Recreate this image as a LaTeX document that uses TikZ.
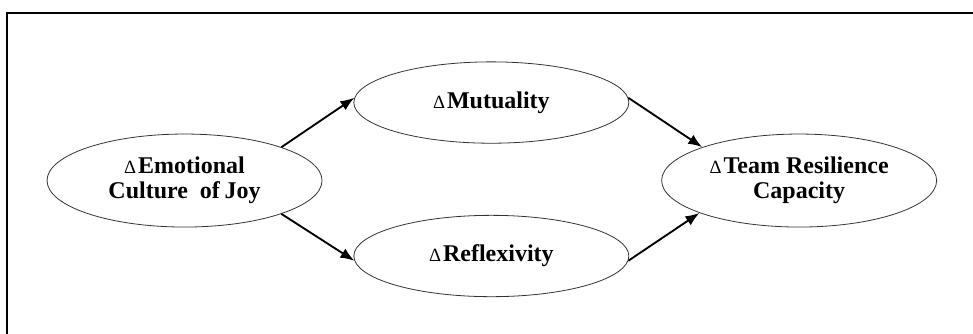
\documentclass[tikz,border=0pt]{standalone}
\usepackage{fontspec}
\setmainfont{Liberation Serif}
\usepackage{tikz}
\usetikzlibrary{shapes, arrows.meta, positioning}
\tikzset{
  varnode/.style={draw=black!80, line width=0.6pt, ellipse, minimum width=206.25pt, minimum height=69.75pt, inner sep=0pt, align=center, font=\fontsize{18}{19}\selectfont\bfseries},
  smallvar/.style={varnode, minimum height=61pt},
  arrow/.style={-{Latex[length=10.5pt, width=8pt]}, line width=1.4pt},
  frame/.style={draw, line width=1.5pt}
}
\newcommand{\dlt}{{\fontsize{14}{14}\selectfont\mdseries Δ}\kern1.5pt}

\begin{document}
\begin{tikzpicture}

% Frame
\clip (0,0) rectangle (729.75pt,-249.75pt);
\draw[frame] (5.25pt,-9.75pt) rectangle (745pt,-265pt);

% Nodes
\node[varnode] (emo) at (138.4pt,-135.4pt) {\dlt Emotional\\Culture~ of\kern-1pt\ Joy};
\node[smallvar, right=23.25pt of emo, yshift=58.5pt] (mut) {\dlt Mutuality};
\node[smallvar, right=23.25pt of emo, yshift=-56.6pt] (ref) {\dlt Reflexivity};
\node[varnode, right=24pt of mut, yshift=-58.5pt] (team) {\dlt Team Resilience\\Capacity};

% Connections
\draw[arrow] (emo.19) -- (mut.178);
\draw[arrow] (emo.-19) -- (ref.182);
\draw[arrow] (mut.2) -- (team.161);
\draw[arrow] (ref.-2) -- (team.198);

\end{tikzpicture}
\end{document}
